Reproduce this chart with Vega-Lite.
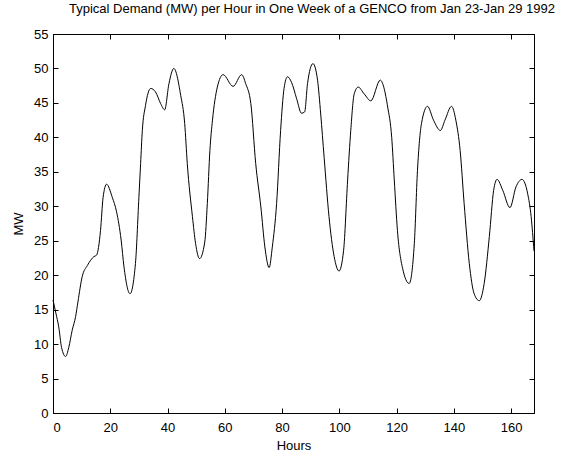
{
  "$schema": "https://vega.github.io/schema/vega-lite/v6.json",
  "autosize": "none",
  "width": 481,
  "height": 379,
  "padding": {"left": 53, "top": 34, "right": 27, "bottom": 42},
  "background": "white",
  "title": {
    "text": "Typical Demand (MW) per Hour in One Week of a GENCO from Jan 23-Jan 29 1992",
    "anchor": "start",
    "frame": "group",
    "dx": 16,
    "offset": 12,
    "font": "Liberation Sans",
    "fontSize": 13,
    "fontWeight": "normal",
    "color": "black"
  },
  "config": {
    "view": {"stroke": "black", "strokeWidth": 1},
    "axis": {
      "labelFont": "Liberation Sans",
      "titleFont": "Liberation Sans",
      "labelFontSize": 13,
      "titleFontSize": 13,
      "titleFontWeight": "normal",
      "labelColor": "black",
      "titleColor": "black",
      "domainColor": "black",
      "tickColor": "black",
      "grid": false,
      "tickSize": -5
    }
  },
  "data": {
    "values": [
      {"h": 0, "v": 16.4},
      {"h": 1, "v": 14.5},
      {"h": 2, "v": 12.5},
      {"h": 3, "v": 9.5},
      {"h": 4.4, "v": 8.2},
      {"h": 5.5, "v": 9.5},
      {"h": 6.7, "v": 12},
      {"h": 7.9, "v": 14},
      {"h": 8.7, "v": 16.1},
      {"h": 10.2, "v": 19.8},
      {"h": 12, "v": 21.4},
      {"h": 14.3, "v": 22.7},
      {"h": 15.2, "v": 22.9},
      {"h": 16.6, "v": 26.5},
      {"h": 17.5, "v": 31.3},
      {"h": 18.7, "v": 33.2},
      {"h": 20.7, "v": 31.3},
      {"h": 22.2, "v": 29.2},
      {"h": 23.8, "v": 25.1},
      {"h": 24.8, "v": 21.2},
      {"h": 26.9, "v": 17.3},
      {"h": 28.8, "v": 21.7},
      {"h": 30, "v": 31.3},
      {"h": 30.6, "v": 36.2},
      {"h": 31.2, "v": 41},
      {"h": 32.3, "v": 44.6},
      {"h": 34.1, "v": 47.1},
      {"h": 35.8, "v": 46.6},
      {"h": 37.6, "v": 44.9},
      {"h": 39, "v": 44},
      {"h": 40.5, "v": 47.8},
      {"h": 42.2, "v": 50},
      {"h": 44.6, "v": 46.1},
      {"h": 46, "v": 42},
      {"h": 46.9, "v": 36.2},
      {"h": 48.7, "v": 28.5},
      {"h": 49.8, "v": 24.6},
      {"h": 51.2, "v": 22.4},
      {"h": 53, "v": 24.8},
      {"h": 53.9, "v": 30.4},
      {"h": 54.8, "v": 38.1},
      {"h": 55.7, "v": 42.5},
      {"h": 57.4, "v": 47.3},
      {"h": 59.4, "v": 49.1},
      {"h": 62.9, "v": 47.4},
      {"h": 65.9, "v": 49.1},
      {"h": 67.3, "v": 47.8},
      {"h": 69.1, "v": 44.9},
      {"h": 70.8, "v": 36.2},
      {"h": 72.6, "v": 29.9},
      {"h": 74, "v": 24.1},
      {"h": 75.5, "v": 21.1},
      {"h": 76.6, "v": 24.1},
      {"h": 78.1, "v": 30.4},
      {"h": 79.5, "v": 41},
      {"h": 80.7, "v": 47.1},
      {"h": 81.9, "v": 48.8},
      {"h": 83.3, "v": 48},
      {"h": 85.1, "v": 45.6},
      {"h": 86.8, "v": 43.5},
      {"h": 87.9, "v": 43.7},
      {"h": 88.9, "v": 47.8},
      {"h": 90.8, "v": 50.7},
      {"h": 92.4, "v": 48.3},
      {"h": 93.5, "v": 43.4},
      {"h": 94.7, "v": 37.1},
      {"h": 96.4, "v": 28.5},
      {"h": 98.2, "v": 22.7},
      {"h": 99.9, "v": 20.6},
      {"h": 101.5, "v": 23.6},
      {"h": 102.9, "v": 33.8},
      {"h": 104, "v": 41},
      {"h": 105.2, "v": 46.3},
      {"h": 106.6, "v": 47.3},
      {"h": 108.7, "v": 46.3},
      {"h": 111, "v": 45.3},
      {"h": 114.3, "v": 48.3},
      {"h": 116.9, "v": 44.4},
      {"h": 118.3, "v": 40},
      {"h": 119.2, "v": 33.8},
      {"h": 120.3, "v": 26.5},
      {"h": 122.1, "v": 21},
      {"h": 124.4, "v": 18.8},
      {"h": 126.2, "v": 24.6},
      {"h": 127.3, "v": 35.2},
      {"h": 128.7, "v": 42},
      {"h": 130.8, "v": 44.5},
      {"h": 132.9, "v": 42.5},
      {"h": 135.3, "v": 41},
      {"h": 136.9, "v": 42.5},
      {"h": 139.2, "v": 44.5},
      {"h": 140.7, "v": 42.5},
      {"h": 142.2, "v": 38.1},
      {"h": 143.6, "v": 30.4},
      {"h": 145.4, "v": 21.7},
      {"h": 147.1, "v": 17.3},
      {"h": 148.9, "v": 16.3},
      {"h": 150.6, "v": 18.8},
      {"h": 152.4, "v": 25.6},
      {"h": 153.9, "v": 32.3},
      {"h": 155.1, "v": 33.9},
      {"h": 157.1, "v": 32.3},
      {"h": 159.6, "v": 29.8},
      {"h": 161.7, "v": 32.8},
      {"h": 163.8, "v": 33.9},
      {"h": 165.8, "v": 31.8},
      {"h": 167, "v": 28.5},
      {"h": 168, "v": 23.5}
    ]
  },
  "layer": [
    {
      "mark": {"type": "line", "color": "black", "strokeWidth": 1, "interpolate": "monotone"},
      "encoding": {
        "x": {
          "field": "h", "type": "quantitative",
          "scale": {"domain": [0, 168], "nice": false, "zero": false},
          "axis": {"title": "Hours", "values": [0, 20, 40, 60, 80, 100, 120, 140, 160], "labelPadding": 13, "titlePadding": 5}
        },
        "y": {
          "field": "v", "type": "quantitative",
          "scale": {"domain": [0, 55], "nice": false},
          "axis": {"title": "MW", "values": [0, 5, 10, 15, 20, 25, 30, 35, 40, 45, 50, 55], "labelPadding": 10, "titlePadding": 8}
        }
      }
    },
    {
      "mark": {"type": "line", "opacity": 0},
      "encoding": {
        "x": {
          "field": "h", "type": "quantitative",
          "axis": {"orient": "top", "title": null, "labels": false, "values": [0, 20, 40, 60, 80, 100, 120, 140, 160]}
        },
        "y": {
          "field": "v", "type": "quantitative",
          "axis": {"orient": "right", "title": null, "labels": false, "values": [0, 5, 10, 15, 20, 25, 30, 35, 40, 45, 50, 55]}
        }
      }
    }
  ],
  "resolve": {"axis": {"x": "independent", "y": "independent"}}
}
